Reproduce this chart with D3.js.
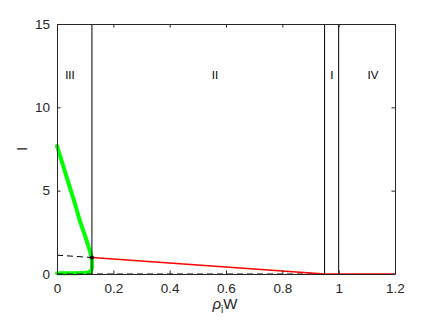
<!DOCTYPE html>
<html>
<head>
<meta charset="utf-8">
<script src="https://cdn.jsdelivr.net/npm/d3@7"></script>
<style>
body { margin: 0; background: #fff; }
svg { display: block; font-family: "Liberation Sans", Arial, sans-serif; }
</style>
</head>
<body>
<svg id="chart" width="436" height="327"></svg>
<script>
// ---- data ----
const xTicks = [0, 0.2, 0.4, 0.6, 0.8, 1, 1.2];
const xTickLabels = ["0", "0.2", "0.4", "0.6", "0.8", "1", "1.2"];
const yTicks = [0, 5, 10, 15];
const yTickLabels = ["0", "5", "10", "15"];

const greenX = [0, 0.02, 0.04, 0.065, 0.083, 0.1, 0.11, 0.118, 0.123, 0.1245, 0.124, 0.12, 0.11, 0.09, 0.05, 0];
const greenY = [7.68, 6.6, 5.5, 4.14, 3.1, 2.27, 1.74, 1.3, 0.95, 0.6, 0.35, 0.18, 0.1, 0.06, 0.05, 0.05];

const redX = [0.124, 0.95, 1.2];
const redY = [0.99, 0, 0];

const dashSlopeX = [0, 0.124];
const dashSlopeY = [1.13, 0.99];
const dashBaseX = [0, 0.95];
const dashBaseY = [0, 0];

const dotX = [0.124];
const dotY = [0.99];

const boundaries = [0.124, 0.95, 1.0];
const regionNames = ["III", "II", "I", "IV"];
const regionX = [0.046, 0.561, 0.976, 1.122];
const regionY = [11.9, 11.9, 11.9, 11.9];

// ---- layout ----
const W = 436, H = 327;
const margin = {left: 57, top: 24, right: 41, bottom: 53};
const svg = d3.select("#chart");
const x = d3.scaleLinear().domain([0, 1.2]).range([margin.left, W - margin.right]);
const y = d3.scaleLinear().domain([0, 15]).range([H - margin.bottom, margin.top]);
const axisColor = "#262626";
const tickLen = 3.5;

const zip = (a, b) => a.map((v, i) => [v, b[i]]);
const line = d3.line().x(d => x(d[0])).y(d => y(d[1]));

// green curve
svg.append("path").datum(zip(greenX, greenY))
  .attr("d", d3.line().curve(d3.curveCatmullRom.alpha(0.5)).x(d => x(d[0])).y(d => y(d[1])))
  .attr("fill", "none").attr("stroke", "#00ff00").attr("stroke-width", 4)
  .attr("stroke-linejoin", "round").attr("stroke-linecap", "round");

// dashed lines
svg.append("path").datum(zip(dashSlopeX, dashSlopeY)).attr("d", line)
  .attr("fill", "none").attr("stroke", "#000").attr("stroke-width", 1).attr("stroke-dasharray", "6,4");
svg.append("path").datum(zip(dashBaseX, dashBaseY)).attr("d", line)
  .attr("fill", "none").attr("stroke", "#000").attr("stroke-width", 1).attr("stroke-dasharray", "6,4");

// red line
svg.append("path").datum(zip(redX, redY)).attr("d", line)
  .attr("fill", "none").attr("stroke", "#ff0000").attr("stroke-width", 1.5);

// region boundaries
svg.selectAll("line.bound").data(boundaries).enter().append("line")
  .attr("class", "bound")
  .attr("x1", d => x(d)).attr("x2", d => x(d))
  .attr("y1", y(0)).attr("y2", y(15))
  .attr("stroke", "#000").attr("stroke-width", 1);

// dot
svg.selectAll("circle.dot").data(zip(dotX, dotY)).enter().append("circle")
  .attr("cx", d => x(d[0])).attr("cy", d => y(d[1])).attr("r", 2).attr("fill", "#000");

// region labels
svg.selectAll("text.region").data(regionNames).enter().append("text")
  .attr("x", (d, i) => x(regionX[i])).attr("y", (d, i) => y(regionY[i]))
  .attr("text-anchor", "middle").attr("dominant-baseline", "middle")
  .attr("font-size", 11.5).attr("fill", "#000").text(d => d);

// axes
const xAxisB = d3.axisBottom(x).tickValues(xTicks).tickFormat((d, i) => xTickLabels[i]).tickSizeInner(-tickLen).tickSizeOuter(0).tickPadding(9);
const xAxisT = d3.axisTop(x).tickValues(xTicks).tickFormat("").tickSizeInner(-tickLen).tickSizeOuter(0);
const yAxisL = d3.axisLeft(y).tickValues(yTicks).tickFormat((d, i) => yTickLabels[i]).tickSizeInner(-tickLen).tickSizeOuter(0).tickPadding(7);
const yAxisR = d3.axisRight(y).tickValues(yTicks).tickFormat("").tickSizeInner(-tickLen).tickSizeOuter(0);

function style(g) {
  g.select(".domain").attr("stroke", axisColor).attr("stroke-width", 1);
  g.selectAll(".tick line").attr("stroke", axisColor);
  g.selectAll(".tick text").attr("fill", axisColor).attr("font-size", 13.5).attr("font-family", "Liberation Sans, Arial, sans-serif");
}
svg.append("g").attr("transform", `translate(0,${y(0)})`).call(xAxisB).call(style);
svg.append("g").attr("transform", `translate(0,${y(15)})`).call(xAxisT).call(style);
svg.append("g").attr("transform", `translate(${x(0)},0)`).call(yAxisL).call(style);
svg.append("g").attr("transform", `translate(${x(1.2)},0)`).call(yAxisR).call(style);

// axis labels
const xl = svg.append("text").attr("x", 225).attr("y", 309).attr("text-anchor", "middle")
  .attr("font-size", 15).attr("fill", axisColor);
xl.append("tspan").attr("font-style", "italic").text("ρ");
xl.append("tspan").attr("font-size", 10).attr("dy", 4).text("i");
xl.append("tspan").attr("dy", -4).text("W");

svg.append("text").attr("transform", "translate(27,149) rotate(-90)").attr("text-anchor", "middle")
  .attr("font-size", 15).attr("fill", axisColor).text("I");
</script>
</body>
</html>
